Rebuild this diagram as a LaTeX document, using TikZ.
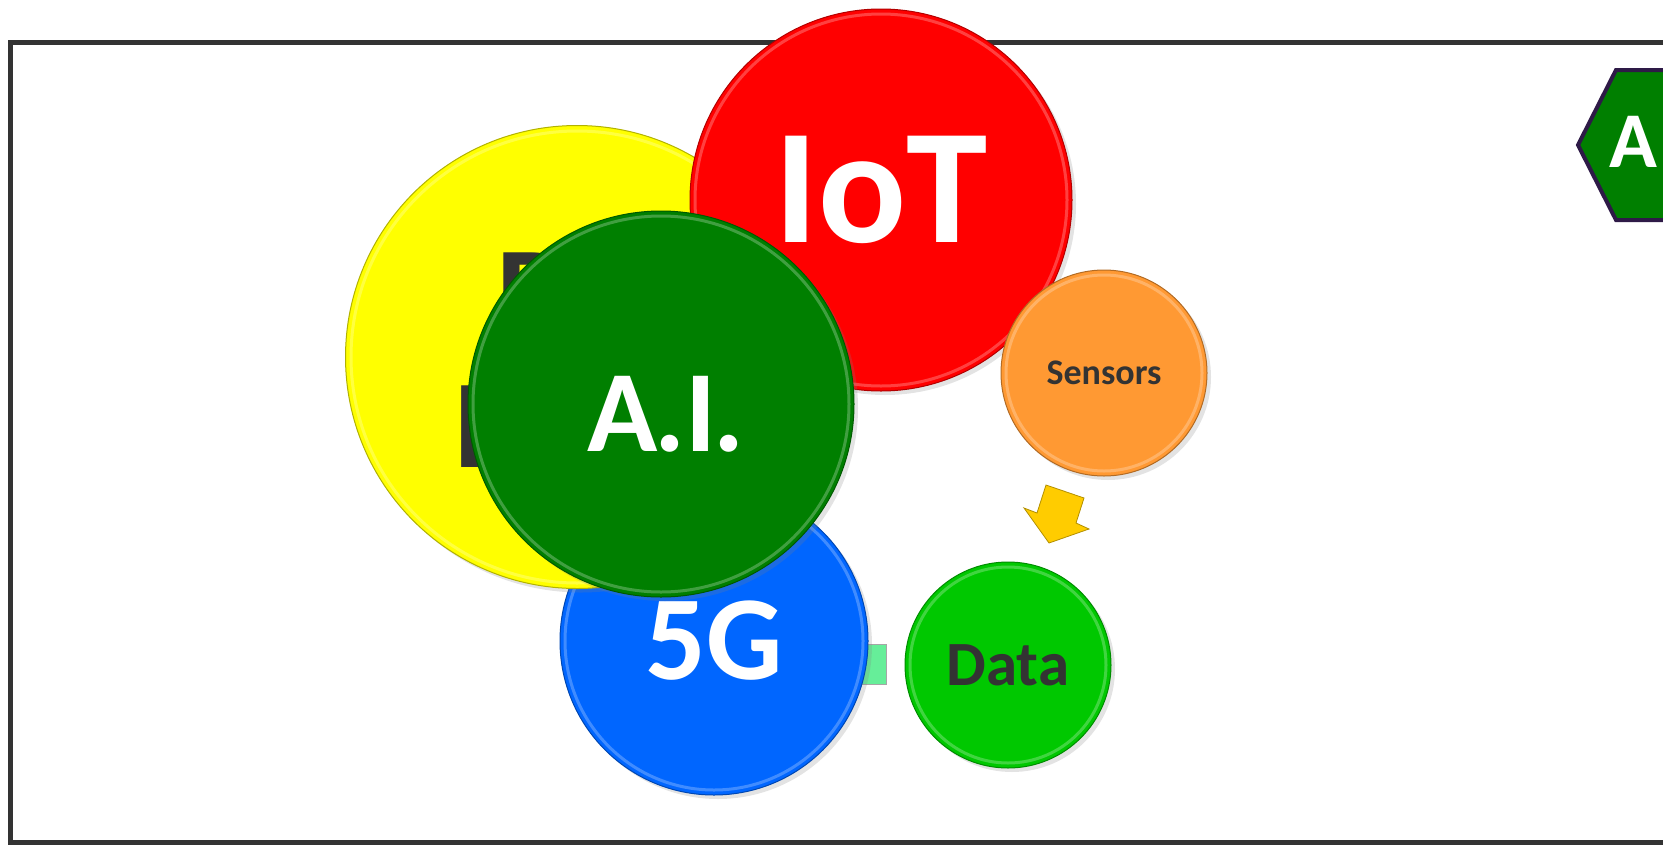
\documentclass[tikz,border=0pt]{standalone}
\usepackage{fontspec}
\setmainfont{Carlito}
\usepackage{tikz}
\usetikzlibrary{shapes.geometric, shadows}
\definecolor{frameGray}{HTML}{333333}
\definecolor{txtDark}{HTML}{333333}
\definecolor{bigYellow}{HTML}{FFFF00}
\definecolor{iotRed}{HTML}{FF0000}
\definecolor{aiGreen}{HTML}{007F00}
\definecolor{netBlue}{HTML}{0066FF}
\definecolor{sensOrange}{HTML}{FF9933}
\definecolor{dataGreen}{HTML}{00C800}
\definecolor{linkGreen}{HTML}{66EE99}
\definecolor{arrowGold}{HTML}{FFCC00}
\definecolor{hexEdge}{HTML}{2E1A47}
\tikzset{
    bubble/.style={circle, inner sep=0pt, line width=1pt, font=\bfseries,
        drop shadow={opacity=0.22, shadow xshift=4pt, shadow yshift=-4pt}},
    rim/.style={path picture={\draw[white, opacity=0.25, line width=3pt]
        (path picture bounding box.center) circle[radius=#1];}},
    frame/.style={draw=frameGray, line width=5pt},
}

\begin{document}
\begin{tikzpicture}[
    x=1pt, y=-1pt,
    big/.style={bubble, rim=226, fill=bigYellow, draw=bigYellow!70!black, minimum size=463pt, text=txtDark, align=center, font=\fontsize{126}{133}\selectfont\bfseries},
    iot/.style={bubble, rim=186, fill=iotRed, draw=iotRed!70!black, minimum size=382pt, text=white, text depth=22pt, font=\fontsize{164}{170}\selectfont\bfseries},
    ai/.style={bubble, rim=188, fill=aiGreen, draw=aiGreen!70!black, minimum size=386pt, text=white, font=\fontsize{122}{130}\selectfont\bfseries},
    net/.style={bubble, rim=149, fill=netBlue, draw=netBlue!70!black, minimum size=308pt, text=white, font=\fontsize{120}{130}\selectfont\bfseries},
    small/.style={bubble, rim=98, minimum size=206pt, text=txtDark},
    hexbox/.style={fill=aiGreen, draw=hexEdge, line width=4pt, line join=miter},
]
\useasboundingbox (0,0) rectangle (1663,844);

% outer frame
\draw[frame] (10.5,42.5) rectangle (1720,842);

% link between 5G and Data (behind the 5G bubble)
\draw[fill=linkGreen, draw=gray!70] (855,644) rectangle (886,684);

% bubbles, back to front
\node[net] (net) at (714,641) {5G};
\node[big] (big) at (577,357) {Big\\Data};
\node[iot] (iot) at (881,200) {IoT};
\node[ai] (ai) at (661,404) {};
\node[white, font=\fontsize{116}{124}\selectfont\bfseries] (ailbl) at (666,414) {A\kern-3pt.I\kern-3pt.};
\node[small, fill=sensOrange, draw=sensOrange!70!black, font=\fontsize{36}{40}\selectfont\bfseries] (sens) at (1104,373) {Sensors};
\node[small, fill=dataGreen, draw=dataGreen!70!black, font=\fontsize{63}{70}\selectfont\bfseries] (data) at (1008,665) {Data};

% block arrow Sensors -> Data
\filldraw[fill=arrowGold, draw=arrowGold!70!black, line width=0.8pt, line join=miter]
    (1046,485) -- (1084,498) -- (1076,523) -- (1089,529) -- (1049,543) -- (1024,508) -- (1037,513) -- cycle;

% hexagon top right (cut by the page edge)
\filldraw[hexbox] (1578,145) -- (1616,70) -- (1740,70) -- (1778,145) -- (1740,220) -- (1616,220) -- cycle;
\node[text=white, font=\fontsize{79}{85}\selectfont\bfseries] (hex) at (1633,142) {A};

\end{tikzpicture}
\end{document}
